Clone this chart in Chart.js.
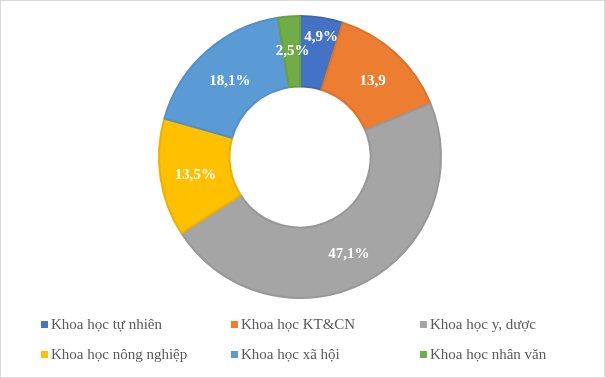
<!DOCTYPE html>
<html>
<head>
<meta charset="utf-8">
<script src="https://cdn.jsdelivr.net/npm/chart.js@4"></script>
<style>
  html, body { margin: 0; padding: 0; background: #fff; }
  #wrap { position: relative; width: 605px; height: 378px; box-sizing: border-box; border: 1px solid #d9d9d9; }
  #c { position: absolute; left: 0; top: 0; }
  .leg { position: absolute; font-family: "Liberation Serif", serif; font-size: 15px; color: #595959; white-space: nowrap; line-height: 16px; }
  .leg span.sw { display: inline-block; width: 7px; height: 7px; margin-right: 3px; vertical-align: 1px; }
</style>
</head>
<body>
<div id="wrap">
  <canvas id="c" width="603" height="376"></canvas>
</div>
<script>
const nhom = [
  "Khoa học tự nhiên",
  "Khoa học KT&CN",
  "Khoa học y, dược",
  "Khoa học nông nghiệp",
  "Khoa học xã hội",
  "Khoa học nhân văn"
];
const tyLe = [4.9, 13.9, 47.1, 13.5, 18.1, 2.5];
const nhanSo = ["4,9%", "13,9", "47,1%", "13,5%", "18,1%", "2,5%"];
const mau = ["#4472C4", "#ED7D31", "#A5A5A5", "#FFC000", "#5B9BD5", "#70AD47"];
const mauVien = ["#3F68B3", "#DA732D", "#989898", "#EBB000", "#5490C4", "#67A041"];
// nhan 4,9% bi keo ra ngoai cho khoi de len nhan 2,5%
const dichNhan = [[5, -15], [1, 2], [0, 3], [0, 3], [0, 3], [1, 0]];

// nhan trong tung lat
const nhanPlugin = {
  id: "nhan",
  afterDatasetsDraw(chart) {
    const ctx = chart.ctx;
    const meta = chart.getDatasetMeta(0);
    ctx.save();
    ctx.font = "bold 15px 'Liberation Serif', serif";
    ctx.fillStyle = "#fff";
    ctx.textAlign = "center";
    ctx.textBaseline = "middle";
    meta.data.forEach((arc, i) => {
      const p = arc.tooltipPosition();
      ctx.fillText(nhanSo[i], p.x + dichNhan[i][0], p.y + dichNhan[i][1]);
    });
    ctx.restore();
  }
};

new Chart(document.getElementById("c"), {
  type: "doughnut",
  data: {
    labels: nhom,
    datasets: [{
      data: tyLe,
      backgroundColor: mau,
      borderColor: mauVien,
      borderWidth: 2
    }]
  },
  options: {
    responsive: false,
    animation: false,
    cutout: "50%",
    layout: { padding: { top: 14, bottom: 78, left: 0, right: 5 } },
    plugins: {
      legend: { display: false },
      tooltip: { enabled: false }
    }
  },
  plugins: [nhanPlugin]
});

// chu thich dang luoi 3 cot
const cotX = [40, 230, 419];
const hangY = [315, 345];
const wrap = document.getElementById("wrap");
nhom.forEach((ten, i) => {
  const d = document.createElement("div");
  d.className = "leg";
  d.style.left = cotX[i % 3] + "px";
  d.style.top = hangY[Math.floor(i / 3)] + "px";
  d.innerHTML = '<span class="sw" style="background:' + mau[i] + '"></span>' + ten.replace("&", "&amp;");
  wrap.appendChild(d);
});
</script>
</body>
</html>
